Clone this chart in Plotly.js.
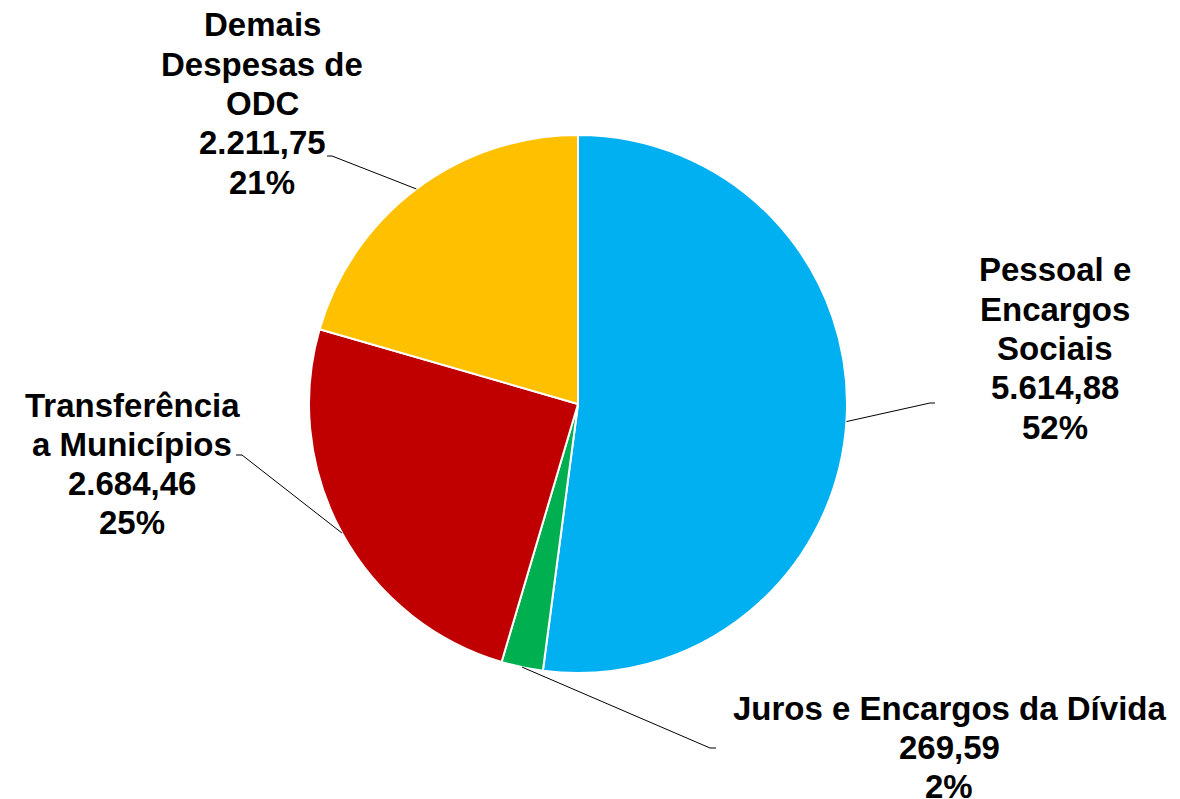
<!DOCTYPE html>
<html>
<head>
<meta charset="utf-8">
<script src="https://cdn.plot.ly/plotly-3.0.1.min.js"></script>
<style>
  body { margin: 0; background: #fff; }
  #chart { width: 1180px; height: 799px; }
</style>
</head>
<body>
<div id="chart"></div>
<script>
var categories = ['Pessoal e Encargos Sociais', 'Juros e Encargos da Dívida', 'Transferência a Municípios', 'Demais Despesas de ODC'];
var values = [5614.88, 269.59, 2684.46, 2211.75];
var percentLabels = ['52%', '2%', '25%', '21%'];
var nameLines = [
    ['Pessoal e', 'Encargos', 'Sociais'],
    ['Juros e Encargos da Dívida'],
    ['Transferência', 'a Municípios'],
    ['Demais', 'Despesas de', 'ODC']
];
var colors = ['#00B0F0', '#00B050', '#C00000', '#FFC000'];

var W = 1180, H = 799;
var cx = 578, cy = 404, R = 269;   // pie centre / radius in px
var lineStep = 39.3;
var fontSize = 33;

// label block: centre x, first line y, and the elbow of the leader line
var labelPos = [
    { x: 1055, y: 270, elbow: [930, 403], end: [935, 403] },
    { x: 949,  y: 708, elbow: [710, 748], end: [716, 748] },
    { x: 132,  y: 405, elbow: [242, 455], end: [236, 455] },
    { x: 262,  y: 25,  elbow: [332, 156], end: [327, 156] }
];

function px(x) { return x / W; }
function py(y) { return 1 - y / H; }

function fmtBR(v) {
    var parts = v.toFixed(2).split('.');
    var intPart = parts[0].replace(/\B(?=(\d{3})+(?!\d))/g, '.');
    return intPart + ',' + parts[1];
}

var total = values.reduce(function (a, b) { return a + b; }, 0);

var annotations = [];
var shapes = [];
var cum = 0;
for (var i = 0; i < values.length; i++) {
    var lines = nameLines[i].concat([fmtBR(values[i]), percentLabels[i]]);
    var p = labelPos[i];
    lines.forEach(function (t, k) {
        annotations.push({
            xref: 'paper', yref: 'paper',
            x: px(p.x), y: py(p.y + k * lineStep),
            xanchor: 'center', yanchor: 'middle',
            text: '<b>' + t + '</b>',
            showarrow: false,
            font: { family: 'Liberation Sans, Arial, sans-serif', size: fontSize, color: '#000' }
        });
    });

    // leader line from middle of slice edge
    var mid = (cum + values[i] / 2) / total * 2 * Math.PI;
    cum += values[i];
    var ex = cx + R * Math.sin(mid);
    var ey = cy - R * Math.cos(mid);
    shapes.push({
        type: 'path', xref: 'paper', yref: 'paper',
        path: 'M ' + px(ex) + ' ' + py(ey) +
              ' L ' + px(p.elbow[0]) + ' ' + py(p.elbow[1]) +
              ' L ' + px(p.end[0]) + ' ' + py(p.end[1]),
        line: { color: '#000', width: 1 }
    });
}

var data = [{
    type: 'pie',
    labels: categories,
    values: values,
    sort: false,
    direction: 'clockwise',
    rotation: 0,
    textinfo: 'none',
    hoverinfo: 'label+value+percent',
    marker: { colors: colors, line: { color: '#fff', width: 2 } },
    domain: { x: [px(cx - R), px(cx + R)], y: [py(cy + R), py(cy - R)] },
    showlegend: false
}];

var layout = {
    width: W,
    height: H,
    margin: { l: 0, r: 0, t: 0, b: 0 },
    paper_bgcolor: '#fff',
    showlegend: false,
    annotations: annotations,
    shapes: shapes
};

Plotly.newPlot('chart', data, layout, { displayModeBar: false, staticPlot: true });
</script>
</body>
</html>
